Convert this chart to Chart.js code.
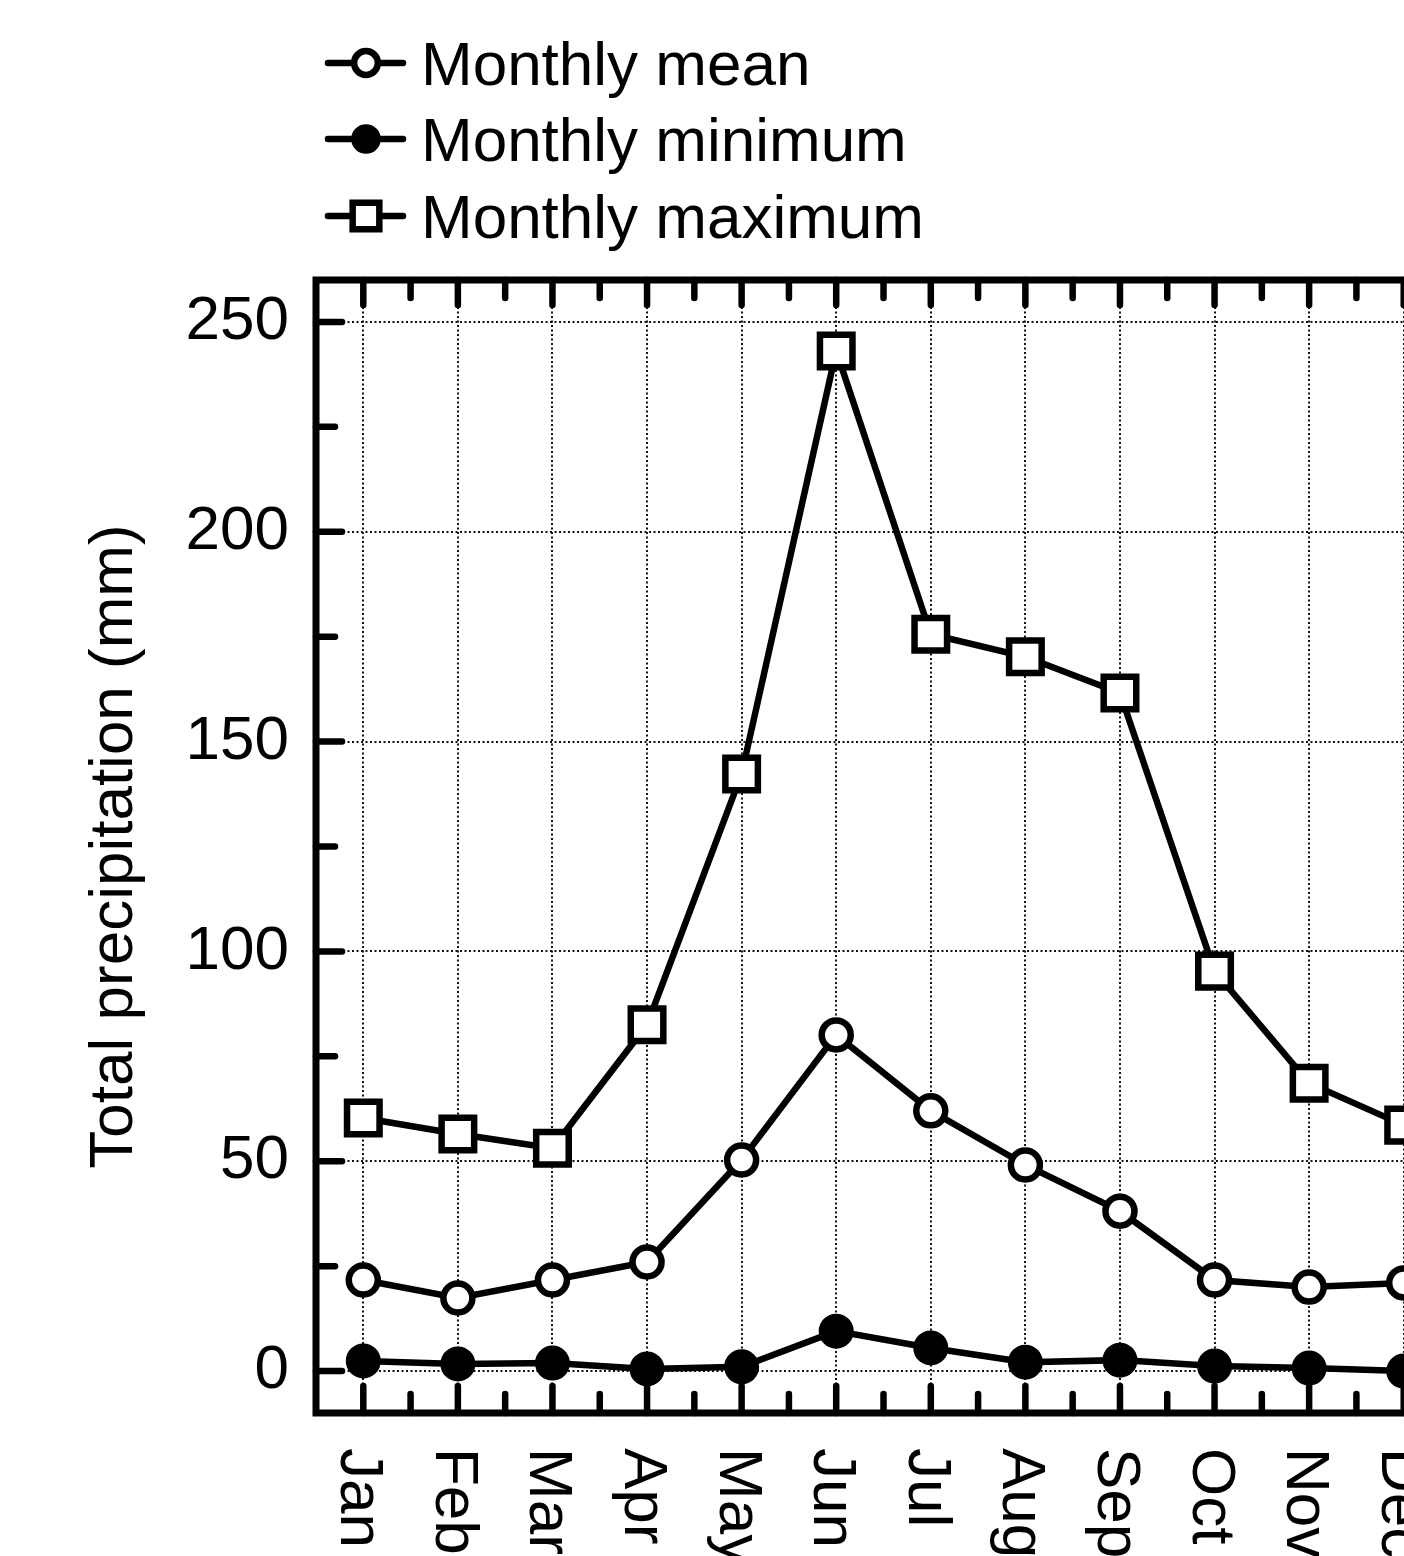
<!DOCTYPE html>
<html>
<head>
<meta charset="utf-8">
<script src="https://cdn.jsdelivr.net/npm/chart.js"></script>
<style>
  html, body { margin: 0; padding: 0; background: #fff; overflow: hidden; }
  #wrap { width: 1460px; height: 1556px; }
</style>
</head>
<body>
<div id="wrap"><canvas id="chart" width="1460" height="1556"></canvas></div>
<script>
const months = ["Jan", "Feb", "Mar", "Apr", "May", "Jun", "Jul", "Aug", "Sep", "Oct", "Nov", "Dec"];
const monthlyMean = [21.7, 17.4, 21.7, 26, 50.3, 80.1, 62, 49.1, 38.1, 21.7, 20, 21];
const monthlyMin = [2.4, 1.7, 1.9, 0.5, 1, 9.5, 5.5, 2.1, 2.6, 1.2, 0.7, 0];
const monthlyMax = [60.3, 56.5, 53.1, 82.5, 142.3, 243.1, 175.6, 170.2, 161.6, 95.3, 68.6, 58.6];
const yTicks = [0, 50, 100, 150, 200, 250];
const yMinorTicks = [25, 75, 125, 175, 225];
const yTitle = "Total precipitation (mm)";

const FONT = "'Liberation Sans', Arial, Helvetica, sans-serif";

// frame, inward ticks, rotated month labels, axis title and legend
const framePlugin = {
  id: "frame",
  afterDraw(chart) {
    const ctx = chart.ctx;
    const a = chart.chartArea;
    const xs = chart.scales.x;
    const ys = chart.scales.y;
    ctx.save();
    ctx.strokeStyle = "#000";
    ctx.lineCap = "round";

    const tick = (x1, y1, x2, y2) => {
      ctx.beginPath();
      ctx.moveTo(x1, y1);
      ctx.lineTo(x2, y2);
      ctx.stroke();
    };
    ctx.lineWidth = 6.5;
    months.forEach((m, i) => {
      const x = xs.getPixelForValue(i);
      tick(x, a.top, x, a.top + 25);
      tick(x, a.bottom, x, a.bottom - 27);
      if (i < months.length - 1) {
        const xm = (x + xs.getPixelForValue(i + 1)) / 2;
        tick(xm, a.top, xm, a.top + 18);
        tick(xm, a.bottom, xm, a.bottom - 19);
      }
    });
    yTicks.forEach(v => {
      const y = ys.getPixelForValue(v);
      tick(a.left, y, a.left + 26, y);
      tick(a.right, y, a.right - 26, y);
    });
    yMinorTicks.forEach(v => {
      const y = ys.getPixelForValue(v);
      tick(a.left, y, a.left + 19, y);
      tick(a.right, y, a.right - 19, y);
    });

    // frame
    ctx.lineCap = "butt";
    ctx.lineWidth = 7;
    ctx.strokeRect(a.left, a.top, a.right - a.left, a.bottom - a.top);

    // month labels, rotated clockwise
    ctx.fillStyle = "#000";
    ctx.font = "62px " + FONT;
    ctx.textAlign = "left";
    ctx.textBaseline = "alphabetic";
    months.forEach((m, i) => {
      const x = xs.getPixelForValue(i);
      ctx.save();
      ctx.translate(x - 22, a.bottom + 35);
      ctx.rotate(Math.PI / 2);
      ctx.fillText(m, 0, 0);
      ctx.restore();
    });

    // y title
    ctx.save();
    ctx.translate(132, (a.top + a.bottom) / 2);
    ctx.rotate(-Math.PI / 2);
    ctx.textAlign = "center";
    ctx.fillText(yTitle, 0, 0);
    ctx.restore();

    // legend
    const rows = [63, 139, 216];
    chart.data.datasets.forEach((ds, i) => {
      const y = rows[i];
      const r = ds.pointRadius * 0.82;
      ctx.strokeStyle = "#000";
      ctx.lineWidth = 6.5;
      ctx.lineCap = "round";
      tick(328, y, 403, y);
      ctx.lineWidth = ds.pointBorderWidth;
      ctx.fillStyle = ds.pointBackgroundColor;
      ctx.beginPath();
      if (ds.pointStyle === "rect") {
        const s = r * Math.SQRT1_2;
        ctx.rect(366 - s, y - s, 2 * s, 2 * s);
      } else {
        ctx.arc(366, y, r, 0, Math.PI * 2);
      }
      ctx.fill();
      ctx.stroke();
      ctx.fillStyle = "#000";
      ctx.textAlign = "left";
      ctx.fillText(ds.label, 421, y + 22);
    });
    ctx.restore();
  }
};

new Chart(document.getElementById("chart"), {
  type: "line",
  data: {
    labels: months,
    datasets: [
      {
        label: "Monthly mean",
        data: monthlyMean,
        borderColor: "#000",
        borderWidth: 6.5,
        pointStyle: "circle",
        pointRadius: 14.5,
        pointBorderWidth: 6.5,
        pointBackgroundColor: "#fff",
        pointBorderColor: "#000"
      },
      {
        label: "Monthly minimum",
        data: monthlyMin,
        borderColor: "#000",
        borderWidth: 6.5,
        pointStyle: "circle",
        pointRadius: 15,
        pointBorderWidth: 5,
        pointBackgroundColor: "#000",
        pointBorderColor: "#000"
      },
      {
        label: "Monthly maximum",
        data: monthlyMax,
        borderColor: "#000",
        borderWidth: 6.5,
        pointStyle: "rect",
        pointRadius: 23,
        pointBorderWidth: 6.5,
        pointBackgroundColor: "#fff",
        pointBorderColor: "#000"
      }
    ]
  },
  options: {
    responsive: false,
    animation: false,
    devicePixelRatio: 1,
    layout: { autoPadding: false, padding: { top: 280, right: 9, left: 0, bottom: 0 } },
    plugins: {
      legend: { display: false },
      tooltip: { enabled: false }
    },
    elements: { line: { tension: 0 } },
    scales: {
      x: {
        type: "category",
        offset: true,
        ticks: { display: false },
        grid: { offset: false, color: "#111", lineWidth: 2, drawTicks: false },
        border: { display: false, dash: [2, 2.5] },
        afterFit: s => { s.height = 143; }
      },
      y: {
        min: -10,
        max: 260,
        afterBuildTicks: s => { s.ticks = yTicks.map(v => ({ value: v })); },
        ticks: {
          color: "#000",
          padding: 27,
          font: { family: FONT, size: 62 }
        },
        grid: { color: "#111", lineWidth: 2, drawTicks: false },
        border: { display: false, dash: [2, 2.5] },
        afterFit: s => { s.width = 316; }
      }
    }
  },
  plugins: [framePlugin]
});
</script>
</body>
</html>
